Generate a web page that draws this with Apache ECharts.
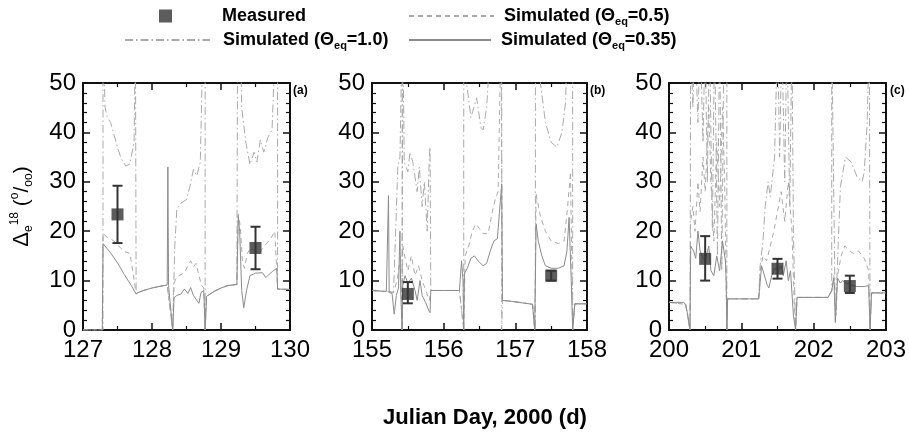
<!DOCTYPE html>
<html>
<head>
<meta charset="utf-8">
<script src="https://cdn.jsdelivr.net/npm/echarts@6/dist/echarts.min.js"></script>
<style>
html,body{margin:0;padding:0;background:#fff;}
#chart{width:909px;height:433px;}
</style>
</head>
<body>
<div id="chart"></div>
<script>
// ---------- DATA ----------
const panelLabels = ['(a)', '(b)', '(c)'];
const dayRanges = [[127, 130], [155, 158], [200, 203]];
const yRange = [0, 50];
const seriesNames = ['Measured', 'Simulated (\u0398eq=0.5)', 'Simulated (\u0398eq=1.0)', 'Simulated (\u0398eq=0.35)'];

// Panel (a)
const simA_035 = [[127.00,0],[127.28,0],[127.29,17.5],[127.33,16.8],[127.4,15.6],[127.5,13.6],[127.6,11.2],[127.7,9.0],[127.77,7.3],[127.8,7.6],[127.9,8.1],[128.0,8.5],[128.1,8.8],[128.22,9.1],[128.23,33.0],[128.24,9.0],[128.30,0],[128.32,6.5],[128.36,7.0],[128.42,7.3],[128.47,8.3],[128.52,7.4],[128.56,8.6],[128.6,7.0],[128.65,6.0],[128.68,5.4],[128.71,7.6],[128.75,8.0],[128.77,0],[128.79,6.8],[128.9,7.8],[129.0,8.5],[129.1,9.0],[129.23,9.2],[129.25,23.0],[129.27,20.0],[129.3,8.0],[129.33,4.5],[129.37,8.0],[129.42,11.0],[129.5,11.5],[129.6,11.6],[129.65,10.6],[129.7,11.3],[129.75,11.9],[129.81,12.5],[129.82,8.3],[130,8.2]];
const simA_05 = [[127.00,0],[127.28,0],[127.29,19.5],[127.35,18.8],[127.45,18.0],[127.55,16.5],[127.62,15.8],[127.68,15.5],[127.72,12],[127.77,7.3],[127.8,7.6],[127.9,8.1],[128.0,8.5],[128.1,8.8],[128.22,9.1],[128.30,0],[128.32,9.5],[128.36,10.8],[128.42,11.2],[128.47,11.6],[128.52,13.0],[128.56,14.0],[128.6,12.8],[128.64,13.5],[128.68,11.0],[128.72,9.0],[128.75,8.5],[128.77,0],[128.79,6.8],[128.9,7.8],[129.0,8.5],[129.1,9.0],[129.23,9.2],[129.25,23.5],[129.28,21.0],[129.31,14.0],[129.34,12.5],[129.38,15.5],[129.43,16.5],[129.5,16.0],[129.55,15.5],[129.6,16.5],[129.66,17.5],[129.72,18.5],[129.78,20.0],[129.82,8.3],[130,8.2]];
const simA_10 = [[127.00,0],[127.29,0],[127.29,60],[127.32,45],[127.35,43.2],[127.4,42.0],[127.45,39.5],[127.5,37.0],[127.55,34.8],[127.62,33.2],[127.68,33.6],[127.74,38],[127.76,60],[127.77,60],[127.77,7.3],[127.8,7.6],[127.9,8.1],[128.0,8.5],[128.1,8.8],[128.22,9.1],[128.30,0],[128.31,0],[128.33,17],[128.36,24.4],[128.42,25.7],[128.5,26.4],[128.55,29.1],[128.6,32.5],[128.65,31.2],[128.7,34],[128.74,60],[128.77,60],[128.77,0],[128.79,6.8],[128.9,7.8],[129.0,8.5],[129.1,9.0],[129.23,9.2],[129.24,60],[129.28,60],[129.3,45],[129.36,38],[129.42,33.5],[129.48,36],[129.52,34],[129.57,38.5],[129.62,36],[129.68,39],[129.74,40.5],[129.79,60],[129.82,60],[129.82,8.3],[130,8.2]];
const measA = [[127.5,23.4],[129.5,16.6]];
const errA = [[127.5,17.6,29.2],[129.5,12.3,20.9]];

// Panel (b)
const simB_035 = [[155.0,8.0],[155.1,7.9],[155.2,7.8],[155.23,27.2],[155.24,7.6],[155.28,7.4],[155.31,3.2],[155.34,7.0],[155.37,8.5],[155.39,20.0],[155.4,8.0],[155.42,0],[155.43,9.0],[155.46,11.0],[155.5,9.5],[155.55,10.5],[155.6,8.0],[155.63,6.0],[155.67,10.0],[155.7,7.0],[155.75,5.5],[155.79,4.0],[155.81,3.5],[155.82,8.0],[156.0,8.0],[156.22,8.0],[156.25,14.0],[156.27,10.0],[156.28,0],[156.29,11.5],[156.33,12.5],[156.38,14.5],[156.43,15.0],[156.48,14.0],[156.55,13.0],[156.6,13.5],[156.65,16.0],[156.7,18.0],[156.75,18.5],[156.79,26.0],[156.81,29.6],[156.82,6.0],[156.95,5.8],[157.1,5.5],[157.24,5.2],[157.27,0],[157.29,21.5],[157.32,18.0],[157.37,15.0],[157.42,13.0],[157.5,12.5],[157.6,12.5],[157.68,13.0],[157.72,16.0],[157.75,22.8],[157.78,10.0],[157.8,0],[157.83,5.3],[158.0,5.3]];
const simB_05 = [[155.0,8.0],[155.2,7.8],[155.3,7.6],[155.35,10.0],[155.4,15.0],[155.42,0],[155.43,17.0],[155.47,14.0],[155.5,12.0],[155.55,15.0],[155.6,11.0],[155.65,13.0],[155.7,10.0],[155.75,8.0],[155.8,6.0],[155.82,8.0],[156.22,8.0],[156.28,0],[156.3,15.0],[156.35,17.0],[156.4,20.0],[156.45,21.5],[156.5,20.5],[156.55,19.5],[156.62,19.5],[156.68,24.0],[156.72,26.5],[156.76,28.0],[156.8,60],[156.81,60],[156.82,6.0],[156.95,5.8],[157.1,5.5],[157.24,5.2],[157.27,0],[157.29,27.5],[157.35,23.0],[157.42,20.0],[157.5,18.0],[157.6,17.5],[157.68,18.0],[157.73,25.0],[157.77,32.0],[157.8,0],[157.83,5.3],[158.0,5.3]];
const simB_10 = [[155.0,8.0],[155.2,7.8],[155.3,7.6],[155.33,20.0],[155.36,33.0],[155.39,35.0],[155.42,60],[155.42,0],[155.43,60],[155.45,34.0],[155.5,32.0],[155.53,36.0],[155.57,34.0],[155.6,31.0],[155.63,28.0],[155.66,33.0],[155.7,25.0],[155.73,30.0],[155.77,20.0],[155.8,35.0],[155.81,37.0],[155.82,8.0],[156.22,8.0],[156.28,0],[156.28,60],[156.32,50.0],[156.38,43.0],[156.42,45.0],[156.46,47.0],[156.52,41.0],[156.55,40.5],[156.6,45.0],[156.66,60],[156.81,60],[156.81,0],[156.82,6.0],[156.95,5.8],[157.1,5.5],[157.24,5.2],[157.28,0],[157.28,60],[157.35,50.0],[157.42,42.0],[157.5,38.0],[157.58,37.0],[157.65,40.0],[157.7,46.0],[157.73,60],[157.8,60],[157.8,0],[157.83,5.3],[158.0,5.3]];
const measB = [[155.5,7.3],[157.5,11.0]];
const errB = [[155.5,5.4,9.7],[157.5,10.0,12.0]];

// Panel (c)
const simC_035 = [[200.0,5.6],[200.2,5.6],[200.23,5.2],[200.26,3.0],[200.29,0],[200.3,17.0],[200.34,16.0],[200.37,14.5],[200.4,20.0],[200.43,16.0],[200.46,15.0],[200.5,14.0],[200.55,17.0],[200.58,12.0],[200.62,11.0],[200.66,15.0],[200.7,12.0],[200.74,18.0],[200.78,14.0],[200.79,10.0],[200.8,0],[200.81,6.3],[201.0,6.3],[201.24,6.3],[201.25,7.8],[201.28,13.0],[201.3,12.0],[201.33,10.5],[201.36,9.0],[201.38,8.5],[201.42,11.0],[201.46,12.5],[201.5,12.0],[201.55,13.0],[201.58,11.0],[201.62,14.0],[201.65,10.0],[201.68,12.0],[201.72,3.0],[201.74,1.0],[201.75,0],[201.77,6.6],[202.0,6.6],[202.2,6.6],[202.25,8.0],[202.28,10.5],[202.3,1.5],[202.33,10.5],[202.37,9.5],[202.4,10.0],[202.45,9.5],[202.5,9.2],[202.6,8.8],[202.7,8.8],[202.76,9.0],[202.78,0],[202.8,7.5],[203.0,7.5]];
const simC_05 = [[200.0,5.6],[200.23,5.2],[200.29,0],[200.3,22.0],[200.33,25.0],[200.36,20.0],[200.4,30.0],[200.43,24.0],[200.47,35.0],[200.5,28.0],[200.55,45.0],[200.58,30.0],[200.62,18.0],[200.66,38.0],[200.7,25.0],[200.74,45.0],[200.77,30.0],[200.8,0],[200.81,6.3],[201.24,6.3],[201.26,12.0],[201.3,15.0],[201.35,14.0],[201.4,17.0],[201.45,20.0],[201.5,24.0],[201.55,28.0],[201.6,22.0],[201.65,30.0],[201.7,20.0],[201.73,6.0],[201.75,0],[201.77,6.6],[202.2,6.6],[202.25,8.0],[202.28,11.0],[202.31,3.0],[202.33,11.0],[202.38,15.0],[202.43,17.0],[202.5,16.0],[202.55,15.5],[202.62,16.0],[202.7,14.5],[202.76,12.0],[202.78,0],[202.8,7.5],[203.0,7.5]];
const simC_10 = [[200.0,5.6],[200.23,5.2],[200.29,0],[200.3,60],[200.33,45.0],[200.36,60],[200.4,42.0],[200.43,60],[200.47,38.0],[200.5,60],[200.53,30.0],[200.56,60],[200.6,20.0],[200.63,60],[200.67,15.0],[200.7,60],[200.73,12.0],[200.76,60],[200.8,60],[200.8,0],[200.81,6.3],[201.24,6.3],[201.26,13.0],[201.3,18.0],[201.33,25.0],[201.37,30.0],[201.4,27.0],[201.43,31.0],[201.46,35.0],[201.5,60],[201.53,35.0],[201.56,60],[201.6,30.0],[201.63,60],[201.67,25.0],[201.7,60],[201.72,20.0],[201.75,0],[201.77,6.6],[202.2,6.6],[202.25,8.0],[202.25,60],[202.27,60],[202.3,2.0],[202.37,29.0],[202.44,35.0],[202.52,34.0],[202.6,31.0],[202.67,30.0],[202.7,32.0],[202.74,42.0],[202.77,60],[202.78,60],[202.78,0],[202.8,7.5],[203.0,7.5]];
const measC = [[200.5,14.4],[201.5,12.4],[202.5,8.9]];
const errC = [[200.5,10.0,19.0],[201.5,10.4,14.4],[202.5,7.5,11.0]];

// ---------- CHART ----------
const sim035 = [simA_035, simB_035, simC_035];
const sim05 = [simA_05, simB_05, simC_05];
const sim10 = [simA_10, simB_10, simC_10];
const meas = [measA, measB, measC];
const errs = [errA, errB, errC];

const gridBoxes = [
  {left: 83, top: 83, width: 207, height: 247},
  {left: 372, top: 83, width: 215, height: 247},
  {left: 669, top: 83, width: 218, height: 247}
];
const tickFont = '"Liberation Sans", Arial, sans-serif';
const boldFont = '"Liberation Sans", Arial, sans-serif';
const axisCol = '#111';
const solidCol = '#8c8c8c';
const lightCol = '#aaaaaa';

const chart = echarts.init(document.getElementById('chart'), null, {renderer: 'canvas'});

const grids = [], xAxes = [], yAxes = [], series = [], graphics = [];

function baseAxis(extra) {
  return Object.assign({
    type: 'value',
    axisLine: {show: true, onZero: false, lineStyle: {color: axisCol, width: 2}},
    axisTick: {show: true, inside: true, length: 7, lineStyle: {color: axisCol, width: 1.5}},
    minorTick: {show: true, length: 4, lineStyle: {color: axisCol, width: 1.2}},
    splitLine: {show: false},
    minorSplitLine: {show: false}
  }, extra);
}

const labelStyle = {fontSize: 24, color: '#000', fontFamily: tickFont};

for (let i = 0; i < 3; i++) {
  grids.push(Object.assign({}, gridBoxes[i]));
  const [mn, mx] = dayRanges[i];
  const xb = baseAxis({gridIndex: i, min: mn, max: mx, interval: 1, position: 'bottom',
    axisLabel: Object.assign({show: true, margin: 8, showMinLabel: true, showMaxLabel: true}, labelStyle)});
  xb.minorTick.splitNumber = 2;
  const xt = baseAxis({gridIndex: i, min: mn, max: mx, interval: 1, position: 'top', axisLabel: {show: false}});
  xt.minorTick.splitNumber = 2;
  xAxes.push(xb, xt);
  const yl = baseAxis({gridIndex: i, min: yRange[0], max: yRange[1], interval: 10, position: 'left',
    axisLabel: Object.assign({show: true, margin: 7}, labelStyle)});
  yl.minorTick.splitNumber = 5;
  if (i === 0) {
    yl.name = '{d|\u0394}{sb|e}{sp|18}{n| (}{sp|o}{n|/}{sb|oo}{n|)}';
    yl.nameLocation = 'middle';
    yl.nameRotate = 90;
    yl.nameGap = 48;
    yl.nameTextStyle = {
      fontFamily: boldFont, color: '#000',
      rich: {
        d: {fontSize: 22, fontFamily: boldFont, lineHeight: 26, color: '#000'},
        n: {fontSize: 21, fontFamily: boldFont, lineHeight: 26, color: '#000'},
        sb: {fontSize: 12, fontFamily: boldFont, lineHeight: 12, verticalAlign: 'bottom', color: '#000'},
        sp: {fontSize: 12, fontFamily: boldFont, lineHeight: 12, verticalAlign: 'top', color: '#000'}
      }
    };
  }
  const yr = baseAxis({gridIndex: i, min: yRange[0], max: yRange[1], interval: 10, position: 'right', axisLabel: {show: false}});
  yr.minorTick.splitNumber = 5;
  yAxes.push(yl, yr);

  const xi = 2 * i, yi = 2 * i;
  series.push({
    type: 'line', name: seriesNames[3], xAxisIndex: xi, yAxisIndex: yi, data: sim035[i],
    symbol: 'none', showSymbol: false, clip: true, animation: false, z: 3,
    lineStyle: {color: solidCol, width: 1, type: 'solid'}, itemStyle: {color: solidCol}
  });
  series.push({
    type: 'line', name: seriesNames[1], xAxisIndex: xi, yAxisIndex: yi, data: sim05[i],
    symbol: 'none', showSymbol: false, clip: true, animation: false, z: 2,
    lineStyle: {color: lightCol, width: 1, type: [5, 4]}, itemStyle: {color: lightCol}
  });
  series.push({
    type: 'line', name: seriesNames[2], xAxisIndex: xi, yAxisIndex: yi, data: sim10[i],
    symbol: 'none', showSymbol: false, clip: true, animation: false, z: 2,
    lineStyle: {color: lightCol, width: 1, type: [8, 3, 1.5, 3]}, itemStyle: {color: lightCol}
  });
  series.push({
    type: 'custom', xAxisIndex: xi, yAxisIndex: yi, data: errs[i], animation: false, z: 4, silent: true,
    encode: {x: 0, y: [1, 2]},
    renderItem: function (params, api) {
      const x = api.value(0), lo = api.value(1), hi = api.value(2);
      const p1 = api.coord([x, lo]), p2 = api.coord([x, hi]);
      const hw = 5;
      const st = {stroke: '#333', lineWidth: 2};
      return {type: 'group', children: [
        {type: 'line', shape: {x1: p1[0], y1: p1[1], x2: p2[0], y2: p2[1]}, style: st},
        {type: 'line', shape: {x1: p1[0] - hw, y1: p1[1], x2: p1[0] + hw, y2: p1[1]}, style: st},
        {type: 'line', shape: {x1: p2[0] - hw, y1: p2[1], x2: p2[0] + hw, y2: p2[1]}, style: st}
      ]};
    }
  });
  series.push({
    type: 'scatter', name: seriesNames[0], xAxisIndex: xi, yAxisIndex: yi, data: meas[i],
    symbol: 'rect', symbolSize: 12, animation: false, z: 5,
    itemStyle: {color: '#333'}
  });

  graphics.push({
    type: 'text', left: gridBoxes[i].left + gridBoxes[i].width + 3, top: gridBoxes[i].top + 2,
    style: {text: panelLabels[i], font: 'bold 12px ' + boldFont, fill: '#000'}
  });
}

graphics.push({
  type: 'text', x: 485, y: 418,
  style: {text: 'Julian Day, 2000 (d)', font: 'bold 22px ' + boldFont, fill: '#000', textAlign: 'center', textVerticalAlign: 'middle'}
});

const legendRich = {
  sp: {width: 5, fontSize: 18},
  spm: {width: 45, fontSize: 18},
  sp8: {width: 8, fontSize: 18},
  t: {fontSize: 18, fontWeight: 'bold', fontFamily: boldFont, color: '#000', lineHeight: 22},
  s: {fontSize: 11, fontWeight: 'bold', fontFamily: boldFont, color: '#000', lineHeight: 11, verticalAlign: 'bottom'}
};
function legendFmt(name) {
  if (name === seriesNames[0]) return '{spm| }{t|Measured}';
  const m = name.match(/^(Simulated \(\u0398)eq(=.*)$/);
  const pre = name === seriesNames[2] ? '{sp8| }' : '{sp| }';
  return pre + '{t|' + m[1] + '}{s|eq}{t|' + m[2] + '}';
}
function mkLegend(name, left, top, w, h, hideSymbol) {
  const lg = {
    data: [name], left: left, top: top, itemWidth: w, itemHeight: h, itemGap: 0, padding: 0,
    selectedMode: false, formatter: legendFmt,
    textStyle: {fontSize: 18, fontWeight: 'bold', fontFamily: boldFont, color: '#000', rich: legendRich}
  };
  if (hideSymbol) lg.itemStyle = {opacity: 0, borderWidth: 0};
  return lg;
}

chart.setOption({
  animation: false,
  backgroundColor: '#fff',
  grid: grids,
  xAxis: xAxes,
  yAxis: yAxes,
  legend: [
    mkLegend(seriesNames[0], 159, 7, 13, 13, false),
    mkLegend(seriesNames[1], 408, 7, 85, 14, true),
    mkLegend(seriesNames[2], 124, 31, 85, 14, true),
    mkLegend(seriesNames[3], 408, 31, 82, 14, true)
  ],
  graphic: graphics,
  series: series
});
</script>
</body>
</html>
